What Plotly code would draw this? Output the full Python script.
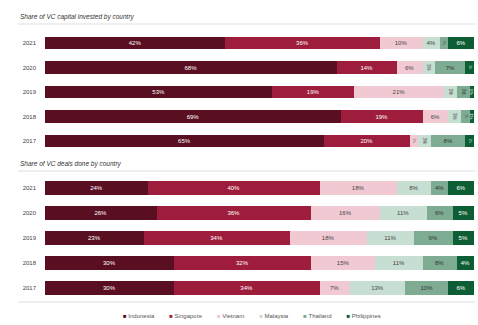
import plotly.graph_objects as go
from plotly.subplots import make_subplots

years = ["2021", "2020", "2019", "2018", "2017"]
countries = ["Indonesia", "Singapore", "Vietnam", "Malaysia", "Thailand", "Philippines"]

capital_indonesia = [42, 68, 53, 69, 65]
capital_singapore = [36, 14, 19, 19, 20]
capital_vietnam = [10, 6, 21, 6, 2]
capital_malaysia = [4, 3, 3, 3, 3]
capital_thailand = [2, 7, 3, 2, 8]
capital_philippines = [6, 2, 1, 1, 2]

deals_indonesia = [24, 26, 23, 30, 30]
deals_singapore = [40, 36, 34, 32, 34]
deals_vietnam = [18, 16, 18, 15, 7]
deals_malaysia = [8, 11, 11, 11, 13]
deals_thailand = [4, 6, 9, 8, 10]
deals_philippines = [6, 5, 5, 4, 6]

capital = [capital_indonesia, capital_singapore, capital_vietnam,
           capital_malaysia, capital_thailand, capital_philippines]
deals = [deals_indonesia, deals_singapore, deals_vietnam,
         deals_malaysia, deals_thailand, deals_philippines]

colors = ["#5a0e21", "#9e1d3d", "#f1c9d2", "#c7ded2", "#7dac92", "#0d5e34"]
text_colors = ["white", "white", "#444444", "#444444", "#333333", "white"]

title_top = "Share of VC capital invested by country"
title_bottom = "Share of VC deals done by country"

W, H = 478, 325
L, R = 45, 4
plot_w = W - L - R

fig = make_subplots(rows=2, cols=1, shared_xaxes=False)

for i, c in enumerate(countries):
    for row, data in ((1, capital), (2, deals)):
        fig.add_trace(go.Bar(
            y=years, x=data[i], orientation="h", name=c,
            marker=dict(color=colors[i], line=dict(width=0)),
            text=[f"{v}%" for v in data[i]], textposition="inside",
            insidetextanchor="middle",
            textfont=dict(size=6, color=text_colors[i], family="Liberation Sans"),
            showlegend=False, hoverinfo="skip",
        ), row=row, col=1)

def py(px):
    return 1 - px / H

def pxx(px):
    return (px - L) / plot_w

fig.update_layout(
    width=W, height=H, barmode="stack", bargap=0.47,
    margin=dict(l=L, r=R, t=0, b=0),
    paper_bgcolor="white", plot_bgcolor="white",
    font=dict(family="Liberation Sans", size=6, color="#444444"),
    showlegend=False,
)

for r, (y0, y1) in ((1, (30.75, 153.25)), (2, (175.5, 300.5))):
    fig.update_yaxes(domain=[py(y1), py(y0)], row=r, col=1,
                     categoryorder="array", categoryarray=years, autorange="reversed",
                     showgrid=False, zeroline=False, showline=False, ticks="",
                     tickfont=dict(size=6, color="#444444"), ticklabelstandoff=8)
    fig.update_xaxes(range=[0, 100], visible=False, row=r, col=1)

fig.add_annotation(text=title_top, xref="paper", yref="paper", x=pxx(18), y=py(17),
                   xanchor="left", yanchor="middle", showarrow=False,
                   font=dict(size=6.5, color="#333333", style="italic"))
fig.add_annotation(text=title_bottom, xref="paper", yref="paper", x=pxx(18), y=py(164),
                   xanchor="left", yanchor="middle", showarrow=False,
                   font=dict(size=6.5, color="#333333", style="italic"))

for yy in (24, 171, 302):
    fig.add_shape(type="line", xref="paper", yref="paper", x0=pxx(18), x1=pxx(475),
                  y0=py(yy), y1=py(yy), line=dict(color="#dddddd", width=1))

# compact legend built as one text line
gap = "\u00a0" * 9
legend_text = gap.join(
    f"<span style='color:{colors[i]}'>■</span>\u00a0{c}" for i, c in enumerate(countries)
)
fig.add_annotation(text=legend_text, xref="paper", yref="paper", x=pxx(252), y=py(316),
                   xanchor="center", yanchor="middle", showarrow=False,
                   font=dict(size=6, color="#555555"))

fig.write_html("out.html", config={"displayModeBar": False},
               post_script="document.body.style.margin='0';")
